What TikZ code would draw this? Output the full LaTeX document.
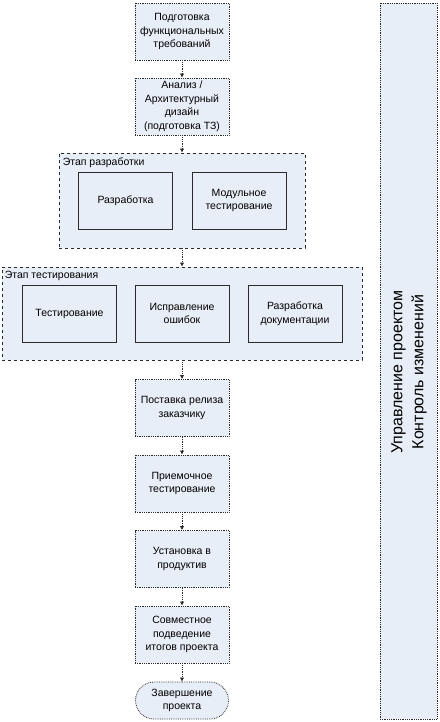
\documentclass[tikz,border=0pt]{standalone}
\usepackage{fontspec}
\setmainfont{Liberation Sans}
\usetikzlibrary{
  arrows.meta,
  positioning,
  shapes.misc
}
\definecolor{pmFill}{HTML}{E8EEF7}
\definecolor{pmLine}{HTML}{2B2B2B}
\tikzset{
  pmnode/.style={
    draw=pmLine, fill=pmFill, line width=0.8pt, minimum width=94pt, minimum height=57pt,
    align=center, inner sep=0.5pt, font=\fontsize{10.5}{13.5}\selectfont
  },
  stagebox/.style={pmnode, densely dotted},
  taskbox/.style={pmnode, solid},
  endbox/.style={stagebox, rounded rectangle, minimum height=37pt},
  phase/.style={draw=pmLine, fill=pmFill, dashed, line width=0.8pt},
  phasetag/.style={anchor=north west, inner sep=1pt, font=\fontsize{10.5}{13.5}\selectfont},
  mgmtbox/.style={draw=pmLine, fill=pmFill, densely dotted, line width=0.8pt, minimum width=57pt, minimum height=716pt},
  mgmttag/.style={rotate=90, align=center, font=\fontsize{16}{21}\selectfont},
  flow/.style={-{Latex[length=4pt,width=4.5pt]}, densely dotted, line width=0.8pt, pmLine}
}
\begin{document}
\begin{tikzpicture}[x=1pt, y=-1pt]
  \useasboundingbox (0,0) rectangle (439,722);
  % top stages
  \node[stagebox] (req) at (182, 31.5) {Подготовка\\функциональных\\требований};
  \node[stagebox] (arch) at (182, 106.5) {Анализ /\\Архитектурный\\дизайн\\(подготовка ТЗ)};
  % development phase
  \node[phase, minimum width=246pt, minimum height=95pt] (devphase) at (182, 200.5) {};
  \node[phasetag] (devtag) at ([xshift=3pt, yshift=-3.5pt]devphase.north west) {Этап разработки};
  \node[taskbox] (dev) at (125.5, 200.5) {Разработка};
  \node[taskbox] (unit) at (239, 200.5) {Модульное\\тестирование};
  % testing phase
  \node[phase, minimum width=360pt, minimum height=93pt] (testphase) at (182, 313.5) {};
  \node[phasetag] (testtag) at ([xshift=2pt, yshift=-3.5pt]testphase.north west) {Этап тестирования};
  \node[taskbox] (test) at (69.5, 313.5) {Тестирование};
  \node[taskbox] (fix) at (182, 313.5) {Исправление\\ошибок};
  \node[taskbox] (docs) at (295, 313.5) {Разработка\\документации};
  % release chain
  \foreach \i/\name/\txt in {
    0/rel/Поставка релиза\\заказчику,
    1/accept/Приемочное\\тестирование,
    2/deploy/Установка в\\продуктив,
    3/review/Совместное\\подведение\\итогов проекта}{
    \node[stagebox] (\name) at (182, {408 + \i*75.5}) {\txt};
  }
  \node[endbox] (finish) at (182, 700.5) {Завершение\\проекта};
  % management
  \node[mgmtbox] (mgmt) at (408.5, 361) {};
  \node[mgmttag] (mgmttxt) at (409, 372) {Управление проектом\\Контроль изменений};
  % arrows
  \draw[flow] (req) -- (arch);
  \draw[flow] (arch) -- (devphase);
  \draw[flow] (devphase) -- (testphase);
  \draw[flow] (testphase) -- (rel);
  \draw[flow] (rel) -- (accept);
  \draw[flow] (accept) -- (deploy);
  \draw[flow] (deploy) -- (review);
  \draw[flow] (review) -- (finish);
\end{tikzpicture}
\end{document}
